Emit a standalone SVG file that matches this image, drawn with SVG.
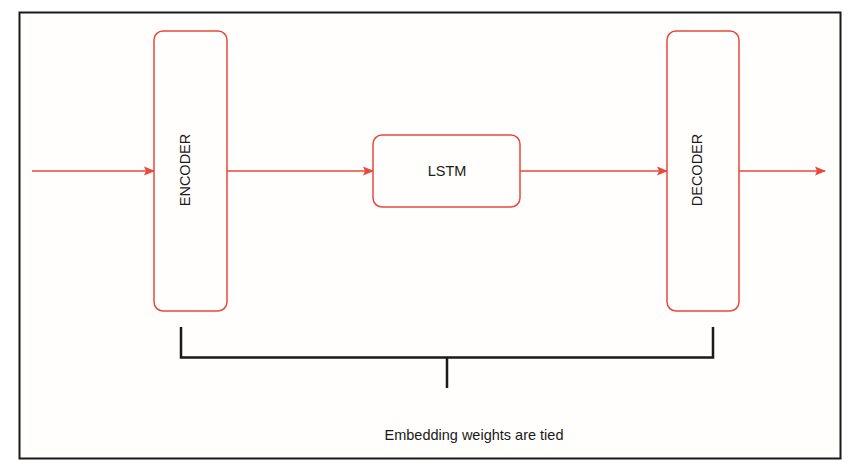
<svg xmlns="http://www.w3.org/2000/svg" width="855" height="473" viewBox="0 0 855 473">
<style>
.box{fill:#fffefd;stroke:#e8493c;stroke-width:1.5}
.lbl{font-family:"Liberation Sans",Arial,sans-serif;font-size:14.5px;fill:#1a1a1a;text-anchor:middle;dominant-baseline:central}
.flow{stroke:#e8493c;stroke-width:1.5;fill:none;marker-end:url(#ah)}
.tie{stroke:#1a1a1a;stroke-width:2.5;fill:none}
</style>
<defs>
<marker id="ah" markerWidth="11" markerHeight="10" refX="10" refY="5" orient="auto" markerUnits="userSpaceOnUse">
<path d="M0,0.5 L11,5 L0,9.5 L2,5 Z" fill="#e8493c"/>
</marker>
</defs>
<rect x="0" y="0" width="855" height="473" fill="#ffffff"/>
<rect x="19.5" y="12.5" width="821" height="446" fill="#fffefd" stroke="#1a1a1a" stroke-width="2"/>
<g id="encoder">
<rect class="box" x="154" y="31" width="73" height="280" rx="9"/>
<text class="lbl" transform="translate(184.5,170) rotate(-90)">ENCODER</text>
</g>
<g id="lstm">
<rect class="box" x="373" y="135" width="147" height="72" rx="9"/>
<text class="lbl" x="447" y="171">LSTM</text>
</g>
<g id="decoder">
<rect class="box" x="667" y="31" width="72" height="280" rx="9"/>
<text class="lbl" transform="translate(697,170) rotate(-90)">DECODER</text>
</g>
<g id="tie-label">
<text class="lbl" x="474" y="435">Embedding weights are tied</text>
</g>
<g id="connectors">
<line class="flow" x1="32" y1="171" x2="154" y2="171"/>
<line class="flow" x1="227" y1="171" x2="373" y2="171"/>
<line class="flow" x1="520" y1="171" x2="667" y2="171"/>
<line class="flow" x1="739" y1="171" x2="825" y2="171"/>
<path class="tie" d="M181,327 V357.5 H713 V327 M447,357.5 V388"/>
</g>
</svg>
